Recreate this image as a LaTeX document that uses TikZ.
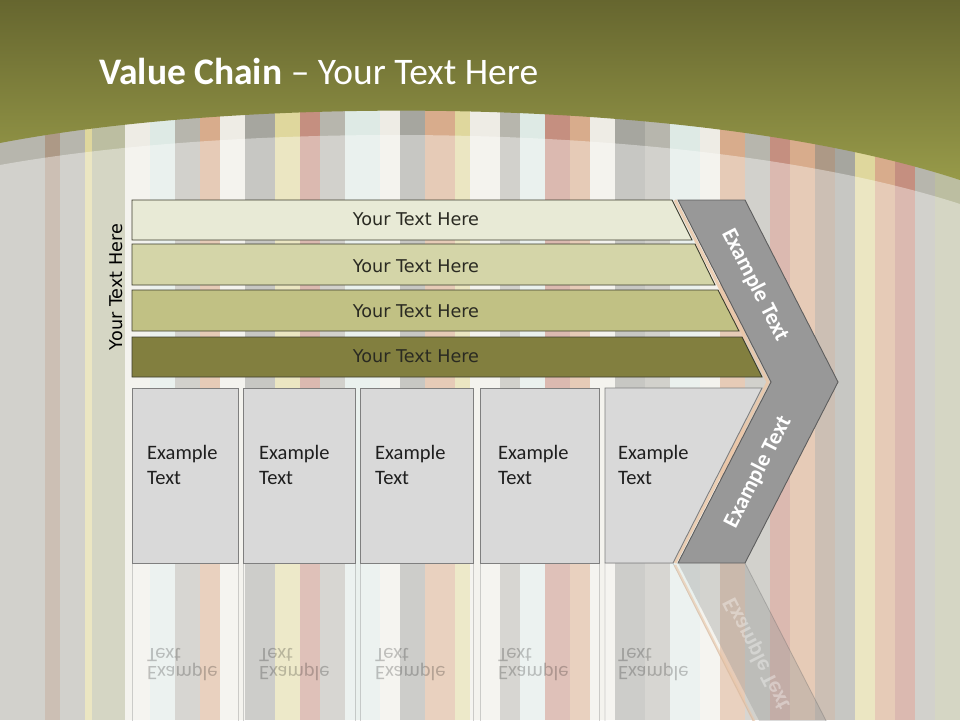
\documentclass[tikz,border=0pt]{standalone}
\usepackage{fontspec}
\setmainfont{Carlito}
\newfontfamily\tahomalike{DejaVu Sans}
\usetikzlibrary{calc}
\definecolor{oliveTop}{HTML}{66662F}
\definecolor{oliveBot}{HTML}{979A49}
\definecolor{barA}{HTML}{E8EAD6}
\definecolor{barB}{HTML}{D4D5A8}
\definecolor{barC}{HTML}{C1C184}
\definecolor{barD}{HTML}{827F3F}
\definecolor{barLine}{HTML}{3C3C2C}
\definecolor{boxFill}{HTML}{D9D9D9}
\definecolor{boxLine}{HTML}{7F7F7F}
\definecolor{chevFill}{HTML}{989898}
\definecolor{chevLine}{HTML}{5E5E5E}
\definecolor{peach}{HTML}{EBC6A6}
\definecolor{txtDark}{HTML}{2A2A22}
\definecolor{sg}{HTML}{9C9A8E}
\definecolor{sd}{HTML}{85847A}
\definecolor{so}{HTML}{C98D60}
\definecolor{sr}{HTML}{B0654F}
\definecolor{sy}{HTML}{D3C878}
\definecolor{sc}{HTML}{D2E2DC}
\definecolor{sw}{HTML}{E8E6DC}
\definecolor{sb}{HTML}{8E7358}
\definecolor{sgr}{HTML}{A3A67E}
\tikzset{
  barshape/.style={draw=barLine, line width=0.9pt},
  bartext/.style={font=\tahomalike\fontsize{17.6}{20}\selectfont, text=txtDark},
  boxshape/.style={draw=boxLine, fill=boxFill, line width=0.9pt},
  boxtext/.style={font=\fontsize{20.5}{25}\selectfont, text=black!88, align=left, anchor=north west},
  chevshape/.style={draw=chevLine, fill=chevFill, line width=0.9pt},
  chevtext/.style={font=\bfseries\fontsize{22.5}{24}\selectfont, text=white, inner sep=1pt},
  reflbox/.style={draw=boxLine, draw opacity=0.35, fill=white, fill opacity=0.12, line width=0.8pt},
  refltext/.style={font=\fontsize{20.5}{25}\selectfont, text=black, text opacity=0.22, align=left, anchor=south west},
}
\begin{document}
\begin{tikzpicture}[x=1pt, y=-1pt]
\useasboundingbox (0,0) rectangle (960,720);
\clip (0,0) rectangle (960,720);
% ---------- textured background (stripes) ----------
\fill[sg] (0,0) rectangle (960,720);
\foreach \xa/\w/\c in {0/45/sg, 45/15/sb, 60/25/sg, 85/7/sy, 92/33/sgr, 125/25/sw, 150/25/sc, 175/25/sg, 200/20/so, 220/25/sw, 245/30/sd, 275/25/sy, 300/20/sr, 320/25/sg, 345/35/sc, 380/20/sw, 400/25/sd, 425/30/so, 455/15/sy, 470/30/sw, 500/20/sg, 520/25/sc, 545/25/sr, 570/20/so, 590/25/sw, 615/30/sd, 645/25/sg, 670/30/sc, 700/20/sw, 720/25/so, 745/25/sg, 770/20/sr, 790/25/so, 815/20/sb, 835/20/sd, 855/20/sy, 875/20/so, 895/20/sr, 915/20/sg, 935/25/sgr}
  \fill[\c] (\xa,0) rectangle ++(\w,720);
% white wash
\fill[white, opacity=0.28] (0,0) rectangle (960,720);
\fill[white, opacity=0.38] (0,165) .. controls (250,120) and (700,120) .. (960,204) -- (960,720) -- (0,720) -- cycle;
% ---------- olive header ----------
\shade[top color=oliveTop, bottom color=oliveBot]
  (0,0) -- (960,0) -- (960,180) .. controls (700,95) and (250,95) .. (0,143) -- cycle;
\node[anchor=base west, text=white, font=\fontsize{37.5}{40}\selectfont, inner sep=0pt] (title) at (99,84)
  {\textbf{Value Chain} – Your Text Here};
% ---------- reflections ----------
\foreach \xa/\xb in {132/238, 243/355, 360/473, 480/599}
  \draw[reflbox] (\xa,563) rectangle (\xb,740);
\draw[reflbox] (605,563) -- (673,563) -- (762,738) -- (762,740) -- (605,740) -- cycle;
\draw[peach, line width=2.5pt, opacity=0.6] (675,565) -- (766,745);
\fill[chevFill, opacity=0.35] (678,563) -- (745,563) -- (838,744) -- (771,744) -- cycle;
\draw[chevLine, opacity=0.3, line width=0.8pt] (745,563) -- (838,744);
\foreach \xa/\nm in {147/ra, 259/rb, 375/rc, 498/rd, 618/re}
  \node[refltext, inner sep=0pt] (\nm) at (\xa,681) {\scalebox{1}[-1]{\shortstack[l]{Example\\[-1pt]Text}}};
\node[chevtext, rotate=-63, text opacity=0.35] (refch) at (757,654) {\scalebox{1}[-1]{Example Text}};
% ---------- chevron ----------
\draw[peach, line width=3pt, opacity=0.8] (675,200) -- (768,382) -- (675,563);
\draw[chevshape] (678,200) -- (745,200) -- (838,382) -- (745,563) -- (678,563) -- (771,382) -- cycle;
\node[chevtext, rotate=-63] (chevA) at (755,285) {Example Text};
\node[chevtext, rotate=63] (chevB) at (758,472) {Example Text};
% ---------- bars ----------
\draw[barshape, fill=barA] (132,200) -- (672,200) -- (692,240) -- (132,240) -- cycle;
\draw[barshape, fill=barB] (132,244) -- (695,244) -- (715,285) -- (132,285) -- cycle;
\draw[barshape, fill=barC] (132,290) -- (718,290) -- (739,331) -- (132,331) -- cycle;
\draw[barshape, fill=barD] (132,337) -- (742,337) -- (762,377) -- (132,377) -- cycle;
\node[bartext] (barA) at (416,219) {Your Text Here};
\node[bartext] (barB) at (416,266) {Your Text Here};
\node[bartext] (barC) at (416,311) {Your Text Here};
\node[bartext] (barD) at (416,356) {Your Text Here};
\node[bartext, text=black, rotate=90] (side) at (116,287) {Your Text Here};
% ---------- boxes ----------
\draw[boxshape] (132,388) rectangle (238,563);
\draw[boxshape] (243,388) rectangle (355,563);
\draw[boxshape] (360,388) rectangle (473,563);
\draw[boxshape] (480,388) rectangle (599,563);
\draw[boxshape] (605,388) -- (762,388) -- (673,563) -- (605,563) -- cycle;
\foreach \xa/\nm in {147/ba, 259/bb, 375/bc, 498/bd, 618/be}
  \node[boxtext, inner sep=0pt] (\nm) at (\xa,445) {Example\\Text};
\end{tikzpicture}
\end{document}
